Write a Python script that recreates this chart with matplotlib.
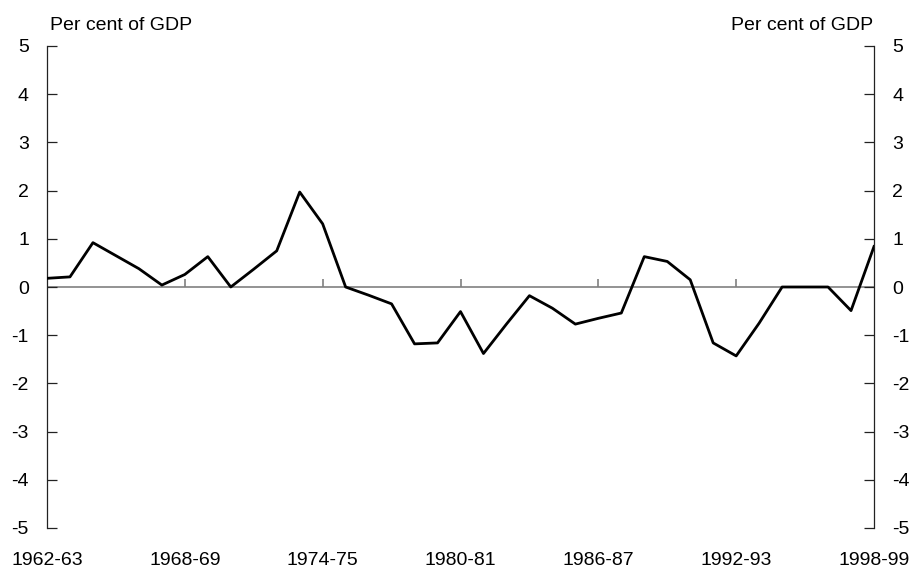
import matplotlib
matplotlib.use("Agg")
import matplotlib.pyplot as plt

plt.rcParams['font.family'] = ['Liberation Sans', 'DejaVu Sans']

years = list(range(1962, 1999))
values = [0.18, 0.21, 0.92, 0.65, 0.38, 0.04, 0.26, 0.63, 0.0, 0.37,
          0.75, 1.97, 1.31, 0.0, -0.17, -0.35, -1.18, -1.16, -0.51, -1.38,
          -0.77, -0.18, -0.44, -0.77, -0.65, -0.54, 0.63, 0.53, 0.15, -1.16,
          -1.43, -0.75, 0.0, 0.0, 0.0, -0.49, 0.84]
tick_years = [1962, 1968, 1974, 1980, 1986, 1992, 1998]
tick_labels = ['1962-63', '1968-69', '1974-75', '1980-81', '1986-87', '1992-93', '1998-99']
yticks = list(range(-5, 6))

fig = plt.figure(figsize=(9.12, 5.68), dpi=100)
ax = fig.add_axes([47/912, 1-528/568, (874-47)/912, (528-46)/568])

ax.axhline(0, color='#808080', lw=1.2, zorder=1)
ax.vlines(tick_years[1:-1], 0, 0.17, color='#808080', lw=1.2, zorder=1)
ax.plot(years, values, color='black', lw=2.0, zorder=3)

ax.set_xlim(1962, 1998)
ax.set_ylim(-5, 5)
ax.set_yticks(yticks)
ax.set_yticklabels([str(v) for v in yticks])
ax.set_xticks(tick_years)
ax.set_xticklabels(tick_labels)

for s in ['top', 'bottom']:
    ax.spines[s].set_visible(False)
for s in ['left', 'right']:
    ax.spines[s].set_color('#222222')
    ax.spines[s].set_linewidth(0.9)

ax.tick_params(axis='y', direction='in', length=7, width=0.9, color='#222222',
               left=True, right=True, labelleft=True, labelright=True,
               labelsize=14, pad=13)
ax.tick_params(axis='x', length=0, labelsize=14, pad=17)

fig.text(50/912, 1-26/568, 'Per cent of GDP', fontsize=14, ha='left', va='center')
fig.text(873/912, 1-26/568, 'Per cent of GDP', fontsize=14, ha='right', va='center')

fig.savefig('out.png', dpi=100)
